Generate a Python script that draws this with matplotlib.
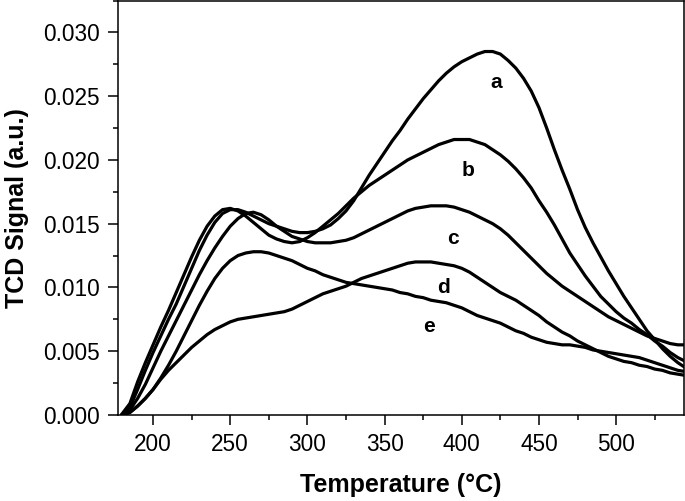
import matplotlib
matplotlib.use('Agg')
import matplotlib.pyplot as plt
from matplotlib.ticker import MultipleLocator, FormatStrFormatter

# temperature grid (°C), every 5 degrees
temperature = list(range(180, 550, 5))

# TCD signal (a.u.)
signal_a = [0.0000, 0.0006, 0.0020, 0.0035, 0.0049, 0.0062, 0.0075, 0.0087, 0.0101,
            0.0115, 0.0129, 0.0141, 0.0151, 0.0158, 0.0161, 0.0161, 0.0159, 0.0156,
            0.0153, 0.0150, 0.0148, 0.0146, 0.0144, 0.0143, 0.0143,
            0.0144, 0.0146, 0.0149, 0.0154, 0.0160, 0.0168, 0.0178, 0.0188, 0.0197,
            0.0206, 0.0215, 0.0223, 0.0232, 0.0240, 0.0248, 0.0255, 0.0262, 0.0268,
            0.0273, 0.0277, 0.0280, 0.0283, 0.0285, 0.0285, 0.0283, 0.0278, 0.0272,
            0.0264, 0.0254, 0.0241, 0.0225, 0.0208, 0.0192, 0.0177, 0.0161, 0.0147,
            0.0135, 0.0124, 0.0113, 0.0103, 0.0093, 0.0084, 0.0075, 0.0066, 0.0059,
            0.0052, 0.0046, 0.0041, 0.0037]
signal_b = [0.0001, 0.0009, 0.0026, 0.0041, 0.0055, 0.0069, 0.0082, 0.0096, 0.0110,
            0.0124, 0.0137, 0.0148, 0.0156, 0.0161, 0.0162, 0.0160, 0.0156, 0.0151,
            0.0146, 0.0141, 0.0138, 0.0136, 0.0135, 0.0136, 0.0139,
            0.0143, 0.0148, 0.0153, 0.0158, 0.0164, 0.0170, 0.0175, 0.0180, 0.0184,
            0.0188, 0.0192, 0.0196, 0.0200, 0.0203, 0.0206, 0.0209, 0.0212, 0.0214,
            0.0216, 0.0216, 0.0216, 0.0214, 0.0212, 0.0208, 0.0204, 0.0199, 0.0193,
            0.0186, 0.0178, 0.0168, 0.0159, 0.0149, 0.0138, 0.0127, 0.0118, 0.0109,
            0.0101, 0.0093, 0.0087, 0.0081, 0.0076, 0.0072, 0.0067, 0.0063, 0.0058,
            0.0054, 0.0049, 0.0045, 0.0042]
signal_c = [0.0000, 0.0004, 0.0013, 0.0024, 0.0037, 0.0050, 0.0062, 0.0074, 0.0086,
            0.0098, 0.0110, 0.0121, 0.0131, 0.0140, 0.0148, 0.0154, 0.0158, 0.0159,
            0.0157, 0.0153, 0.0148, 0.0144, 0.0140, 0.0138, 0.0136,
            0.0135, 0.0135, 0.0135, 0.0136, 0.0137, 0.0139, 0.0142, 0.0145, 0.0148,
            0.0151, 0.0154, 0.0157, 0.0160, 0.0162, 0.0163, 0.0164, 0.0164, 0.0164,
            0.0163, 0.0161, 0.0159, 0.0156, 0.0153, 0.0150, 0.0146, 0.0141, 0.0135,
            0.0129, 0.0123, 0.0117, 0.0111, 0.0106, 0.0101, 0.0097, 0.0093, 0.0089,
            0.0085, 0.0081, 0.0077, 0.0074, 0.0071, 0.0068, 0.0065, 0.0062, 0.0060,
            0.0058, 0.0056, 0.0055, 0.0055]
signal_d = [0.0000, 0.0002, 0.0007, 0.0013, 0.0020, 0.0028, 0.0035, 0.0041, 0.0047,
            0.0053, 0.0058, 0.0063, 0.0067, 0.0070, 0.0073, 0.0075, 0.0076, 0.0077,
            0.0078, 0.0079, 0.0080, 0.0081, 0.0083, 0.0086, 0.0089,
            0.0092, 0.0095, 0.0097, 0.0099, 0.0101, 0.0104, 0.0107, 0.0109, 0.0111,
            0.0113, 0.0115, 0.0117, 0.0119, 0.0120, 0.0120, 0.0120, 0.0119, 0.0118,
            0.0117, 0.0115, 0.0112, 0.0108, 0.0104, 0.0100, 0.0096, 0.0093, 0.0090,
            0.0086, 0.0082, 0.0078, 0.0073, 0.0069, 0.0065, 0.0062, 0.0058, 0.0055,
            0.0052, 0.0049, 0.0046, 0.0044, 0.0042, 0.0041, 0.0039, 0.0038, 0.0036,
            0.0035, 0.0033, 0.0032, 0.0031]
signal_e = [0.0000, 0.0002, 0.0007, 0.0013, 0.0020, 0.0029, 0.0039, 0.0050, 0.0062,
            0.0074, 0.0086, 0.0097, 0.0107, 0.0115, 0.0121, 0.0125, 0.0127, 0.0128,
            0.0128, 0.0127, 0.0125, 0.0123, 0.0121, 0.0118, 0.0115,
            0.0113, 0.0110, 0.0108, 0.0106, 0.0104, 0.0103, 0.0102, 0.0101, 0.0100,
            0.0099, 0.0098, 0.0096, 0.0095, 0.0093, 0.0092, 0.0090, 0.0089, 0.0088,
            0.0086, 0.0084, 0.0081, 0.0078, 0.0076, 0.0074, 0.0072, 0.0069, 0.0066,
            0.0064, 0.0061, 0.0059, 0.0057, 0.0056, 0.0055, 0.0055, 0.0054, 0.0053,
            0.0051, 0.0050, 0.0049, 0.0048, 0.0047, 0.0046, 0.0045, 0.0043, 0.0041,
            0.0039, 0.0037, 0.0035, 0.0034]

curve_names = ['a', 'b', 'c', 'd', 'e']
label_x = [422, 404, 394, 388, 379]
label_y = [0.0261, 0.0192, 0.01387, 0.0100, 0.0069]


def main():
    plt.rcParams['font.family'] = ['Liberation Sans', 'DejaVu Sans']

    fig = plt.figure(figsize=(6.85, 5.01), dpi=100)
    ax = fig.add_axes([0.1723, 0.1717, 0.8263, 0.8273])

    for sig in [signal_a, signal_b, signal_c, signal_d, signal_e]:
        ax.plot(temperature, sig, color='black', linewidth=2.3,
                solid_joinstyle='round')

    for name, x, y in zip(curve_names, label_x, label_y):
        ax.text(x, y, name, fontsize=15, fontweight='bold',
                ha='center', va='center')

    ax.set_xlim(177.3, 544)
    ax.set_ylim(0, 0.0325)
    ax.xaxis.set_major_locator(MultipleLocator(50))
    ax.xaxis.set_minor_locator(MultipleLocator(25))
    ax.yaxis.set_major_locator(MultipleLocator(0.005))
    ax.yaxis.set_minor_locator(MultipleLocator(0.0025))
    ax.yaxis.set_major_formatter(FormatStrFormatter('%.3f'))

    ax.tick_params(which='major', direction='out', length=7, width=1.1,
                   labelsize=16.3, pad=6)
    ax.tick_params(which='minor', direction='out', length=3.6, width=1.1)
    for sp in ax.spines.values():
        sp.set_linewidth(1.1)

    ax.set_xlabel('Temperature (°C)', fontsize=18, fontweight='bold', labelpad=12)
    ax.set_ylabel('TCD Signal (a.u.)', fontsize=18, fontweight='bold', labelpad=10)

    fig.savefig('out.png', dpi=100)
    plt.close(fig)


if __name__ == '__main__':
    main()
